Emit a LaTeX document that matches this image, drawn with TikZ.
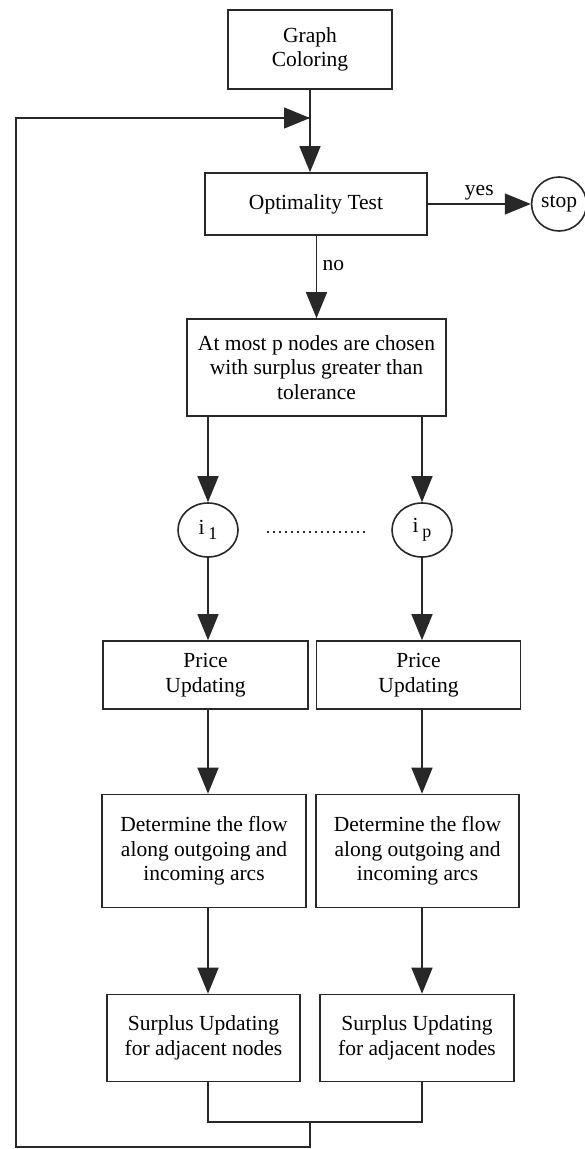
\documentclass[tikz,border=0pt]{standalone}
\usepackage{fontspec}
\setmainfont{Liberation Serif}
\usepackage{tikz}
\usetikzlibrary{shapes.geometric, arrows.meta, positioning, calc}
\definecolor{darkgray}{RGB}{40,40,40}
\definecolor{tipgray}{RGB}{70,70,62}
\tikzset{
  box/.style={rectangle, draw=darkgray, line width=1.6pt, fill=white,
              align=center, inner sep=0pt,
              font=\fontsize{21.5}{24.5}\selectfont},
  circ/.style={ellipse, draw=darkgray, line width=1.6pt, fill=white,
               minimum width=60pt, minimum height=54pt, inner sep=0pt,
               font=\fontsize{21.5}{24.5}\selectfont},
  arrow/.style={-{Triangle[length=26pt, width=21pt]}, line width=1.4pt,
                draw=darkgray, fill=tipgray},
  line/.style={line width=1.4pt, draw=darkgray},
  lbl/.style={font=\fontsize{21.5}{24.5}\selectfont},
}

\begin{document}
\begin{tikzpicture}[x=1pt, y=-1pt]
  \useasboundingbox (0,0) rectangle (585,1149);

  % Top nodes
  \node[box, minimum width=164pt, minimum height=79pt] (color) at (310,49.5)
    {Graph\\Coloring};
  \node[box, minimum width=222pt, minimum height=62pt] (opt) at (316,204)
    {Optimality Test};
  \node[circ, minimum width=55pt, right=103pt of opt] (stop) {stop};
  \node[box, minimum width=259pt, minimum height=97pt] (choose) at (316.5,367.5)
    {At most p nodes are chosen\\with surplus greater than\\tolerance};

  % Chosen nodes
  \node[circ] (i1) at (208,530) {i\,\raisebox{-5pt}{\fontsize{18}{18}\selectfont 1}};
  \node[circ] (ip) at (422,530) {i\,\raisebox{-5pt}{\fontsize{18}{18}\selectfont p}};
  \coordinate (dotsL) at (267,532);
  \coordinate (dotsR) at (368,532);

  % Two columns
  \node[box, minimum width=205pt, minimum height=68pt] (price1) at (205.5,675)
    {Price\\Updating};
  \node[box, minimum width=204pt, minimum height=68pt] (price2) at (418.5,675)
    {Price\\Updating};
  \node[box, minimum width=204pt, minimum height=113pt] (flow1) at (204,851)
    {Determine the flow\\along outgoing and\\incoming arcs};
  \node[box, minimum width=203pt, minimum height=113pt] (flow2) at (417.5,851)
    {Determine the flow\\along outgoing and\\incoming arcs};
  \node[box, minimum width=193pt, minimum height=87pt] (surp1) at (203.5,1038)
    {Surplus Updating\\for adjacent nodes};
  \node[box, minimum width=194pt, minimum height=87pt] (surp2) at (417,1038)
    {Surplus Updating\\for adjacent nodes};

  % Loop points
  \coordinate (join) at (color.south |- 0,118);
  \coordinate (merge) at (310,1122);
  \coordinate (back1) at (310,1147);
  \coordinate (back2) at (16,1147);
  \coordinate (back3) at (16,118);

  % Arrows
  \draw[arrow] (color) -- (color.south |- opt.north);
  \draw[arrow] (opt) -- node[lbl, above] {yes} (stop);
  \draw[arrow] (opt.south -| choose.north) -- node[lbl, right, pos=0.36, xshift=2pt] {no} (choose.north);
  \draw[arrow] (choose.south -| i1) -- (i1.north);
  \draw[arrow] (choose.south -| ip) -- (ip.north);
  \draw[line, line width=2pt, dash pattern=on 1.6pt off 4.4pt] (dotsL) -- (dotsR);
  \draw[arrow] (i1.south) -- (i1.south |- price1.north);
  \draw[arrow] (ip.south) -- (ip.south |- price2.north);
  \draw[arrow] (price1.south -| i1) -- (i1 |- flow1.north);
  \draw[arrow] (price2.south -| ip) -- (ip |- flow2.north);
  \draw[arrow] (flow1.south -| i1) -- (i1 |- surp1.north);
  \draw[arrow] (flow2.south -| ip) -- (ip |- surp2.north);

  % Feedback loop
  \draw[line] (surp1.south -| i1) |- (merge) -| (surp2.south -| ip);
  \draw[line] (merge) -- (back1) -- (back2) -- (back3) -- (join);
  \draw[arrow] (back3) -- (join);
\end{tikzpicture}
\end{document}
